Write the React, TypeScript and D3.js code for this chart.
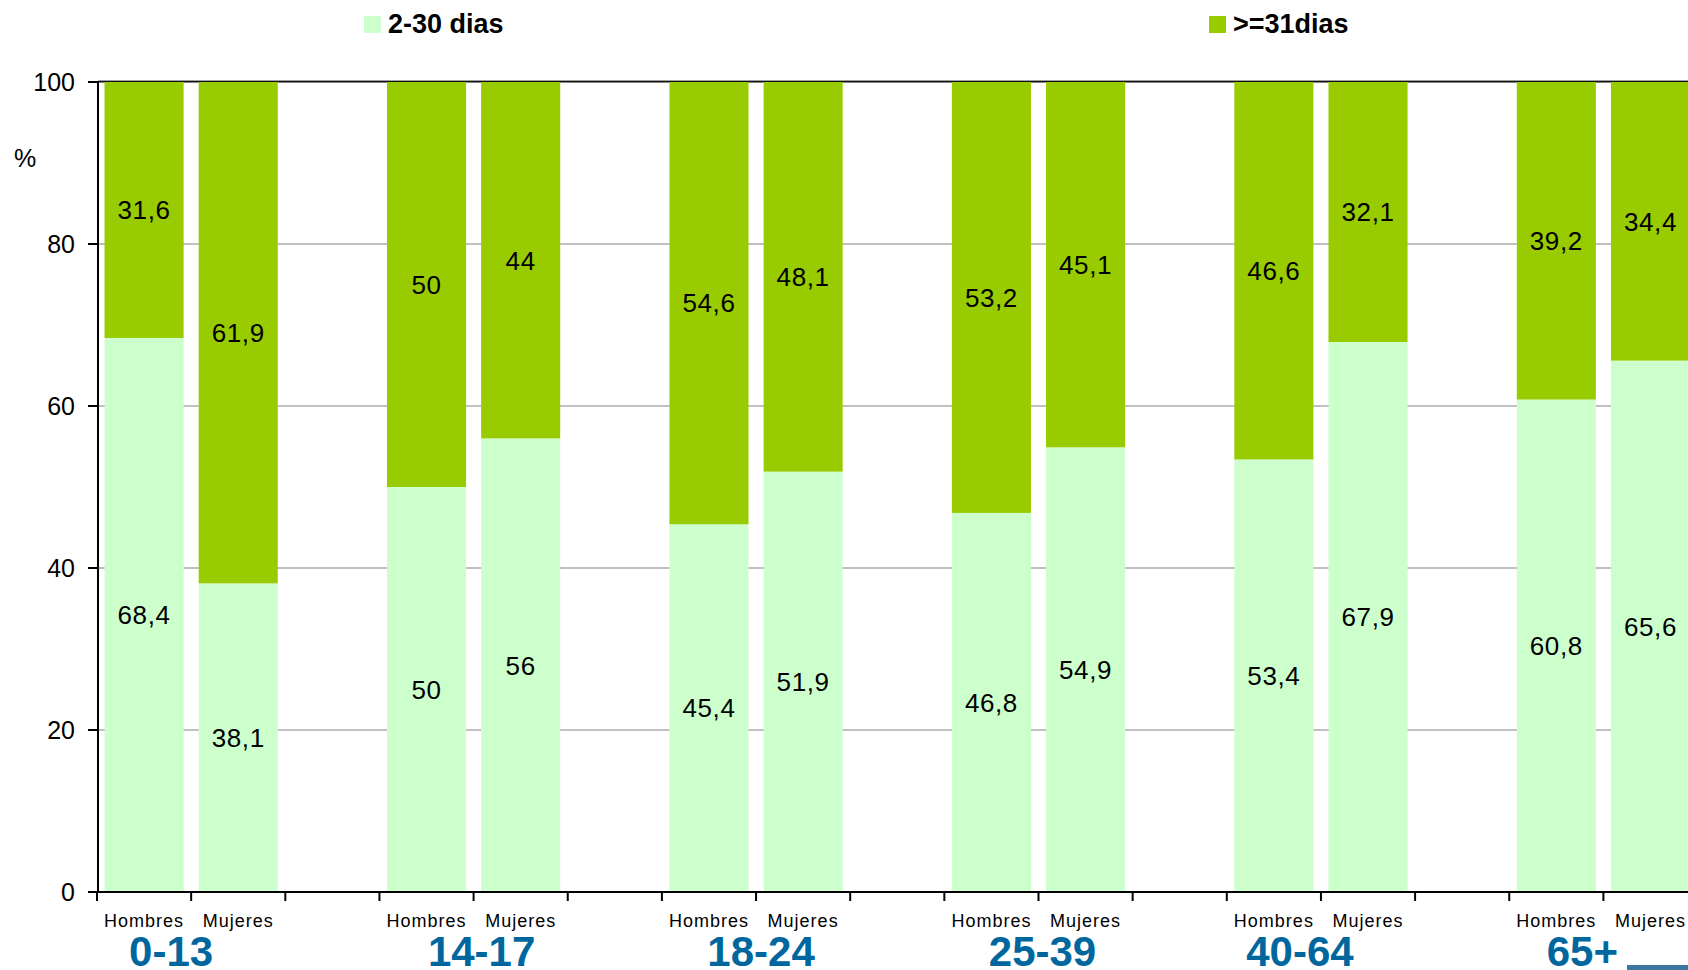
import React from "react";
import * as d3 from "d3";

// Hospital stay length by age group and sex (percent of each bar)
const ageGroups = ["0-13", "14-17", "18-24", "25-39", "40-64", "65+"];
const sexes = ["Hombres", "Mujeres"];
const seriesNames = ["2-30 dias", ">=31dias"];
// one value per bar: Hombres, Mujeres for each age group in order
const shortStay = [68.4, 38.1, 50, 56, 45.4, 51.9, 46.8, 54.9, 53.4, 67.9, 60.8, 65.6];
const longStay = [31.6, 61.9, 50, 44, 54.6, 48.1, 53.2, 45.1, 46.6, 32.1, 39.2, 34.4];
const yTicks = [0, 20, 40, 60, 80, 100];

const W = 1688;
const H = 970;
const FONT = "'Liberation Sans', Arial, Helvetica, sans-serif";
const LIGHT = "#CCFFCC";
const DARK = "#99CC00";
const BLUE = "#00679E";

// small horizontal nudges of the age-group captions relative to their pair of bars
const groupCaptionNudge = [-20, 8, 5, 4, -21, -21];

type Row = { key: string; group: string; sex: string; short: number; long: number };

const rows: Row[] = [];
ageGroups.forEach((g, gi) => {
  sexes.forEach((s, si) => {
    const i = gi * 2 + si;
    rows.push({ key: `${g}|${s}`, group: g, sex: s, short: shortStay[i], long: longStay[i] });
  });
});

// every age group occupies three slots: two bars and an empty gap
const slotKeys: string[] = [];
ageGroups.forEach((g) => {
  sexes.forEach((s) => slotKeys.push(`${g}|${s}`));
  slotKeys.push(`${g}|gap`);
});

const fmt = (v: number) => String(v).replace(".", ",");

export default function App() {
  const axisX = 98;
  const rangeStart = 97;
  const step = 94.15;
  const x = d3
    .scaleBand<string>()
    .domain(slotKeys)
    .range([rangeStart, rangeStart + step * slotKeys.length])
    .paddingInner(0.16)
    .paddingOuter(0.08);
  const y = d3.scaleLinear().domain([0, 100]).range([892, 82]);
  const bw = x.bandwidth();
  const inset = (x.step() - bw) / 2;

  const stack = d3
    .stack<Row>()
    .keys(["short", "long"])
    .value((d, k) => (d as any)[k]);
  const layers = stack(rows);
  const colors = [LIGHT, DARK];

  const slotStart = (k: string) => (x(k) as number) - inset;

  return (
    <svg
      width={W}
      height={H}
      viewBox={`0 0 ${W} ${H}`}
      style={{ position: "absolute", left: 0, top: 0, display: "block", background: "#fff" }}
      fontFamily={FONT}
    >
      {/* legend */}
      {seriesNames.map((name, i) => {
        const lx = i === 0 ? 364 : 1209;
        return (
          <g key={name}>
            <rect x={lx} y={16} width={17} height={17} fill={colors[i]} />
            <text x={lx + 24} y={33} fontSize={27} fontWeight="bold" fill="#000">
              {name}
            </text>
          </g>
        );
      })}

      {/* gridlines */}
      {yTicks
        .filter((t) => t > 0 && t < 100)
        .map((t) => (
          <line key={t} x1={axisX} x2={W} y1={y(t)} y2={y(t)} stroke="#C0C0C0" strokeWidth={2} />
        ))}
      {/* top border of the plot area */}
      <line x1={axisX} x2={W} y1={y(100) - 0.5} y2={y(100) - 0.5} stroke="#111" strokeWidth={2} />

      {/* stacked bars */}
      {layers.map((layer, li) => (
        <g key={layer.key}>
          {layer.map((d) => (
            <rect
              key={d.data.key}
              x={x(d.data.key)}
              y={y(d[1])}
              width={bw}
              height={y(d[0]) - y(d[1])}
              fill={colors[li]}
            />
          ))}
        </g>
      ))}
      <line x1={axisX} x2={W} y1={y(100) - 1.5} y2={y(100) - 1.5} stroke="#A0A0A0" strokeWidth={1} />

      {/* value labels */}
      {layers.map((layer) => (
        <g key={`lab-${layer.key}`}>
          {layer.map((d) => (
            <text
              key={d.data.key}
              x={(x(d.data.key) as number) + bw / 2}
              y={y((d[0] + d[1]) / 2)}
              dy="0.36em"
              textAnchor="middle"
              fontSize={26}
              letterSpacing={0.6}
              fill="#000"
            >
              {fmt((d.data as any)[layer.key])}
            </text>
          ))}
        </g>
      ))}

      {/* y axis */}
      <line x1={axisX} x2={axisX} y1={y(100) - 1} y2={y(0) + 1} stroke="#000" strokeWidth={2} />
      {yTicks.map((t) => (
        <g key={t}>
          <line x1={axisX - 10} x2={axisX} y1={y(t)} y2={y(t)} stroke="#000" strokeWidth={2} />
          <text x={75} y={y(t)} dy="0.36em" textAnchor="end" fontSize={25} fill="#000">
            {t}
          </text>
        </g>
      ))}
      <text x={14} y={167} fontSize={25} fill="#000">
        %
      </text>

      {/* x axis */}
      <line x1={axisX} x2={W} y1={y(0)} y2={y(0)} stroke="#000" strokeWidth={2} />
      {slotKeys.map((k) => (
        <line
          key={k}
          x1={slotStart(k)}
          x2={slotStart(k)}
          y1={y(0)}
          y2={y(0) + 9}
          stroke="#000"
          strokeWidth={2}
        />
      ))}
      {rows.map((r) => (
        <text
          key={`sx-${r.key}`}
          x={(x(r.key) as number) + bw / 2}
          y={927}
          textAnchor="middle"
          fontSize={18}
          letterSpacing={1}
          fill="#000"
        >
          {r.sex}
        </text>
      ))}
      {ageGroups.map((g, gi) => {
        const mid = slotStart(`${g}|${sexes[1]}`);
        return (
          <text
            key={`ag-${g}`}
            x={mid + groupCaptionNudge[gi]}
            y={966}
            textAnchor="middle"
            fontSize={42}
            fontWeight="bold"
            fill={BLUE}
          >
            {g}
          </text>
        );
      })}
      <rect x={1627} y={965} width={W - 1627} height={5} fill="#3B76A0" />
    </svg>
  );
}
